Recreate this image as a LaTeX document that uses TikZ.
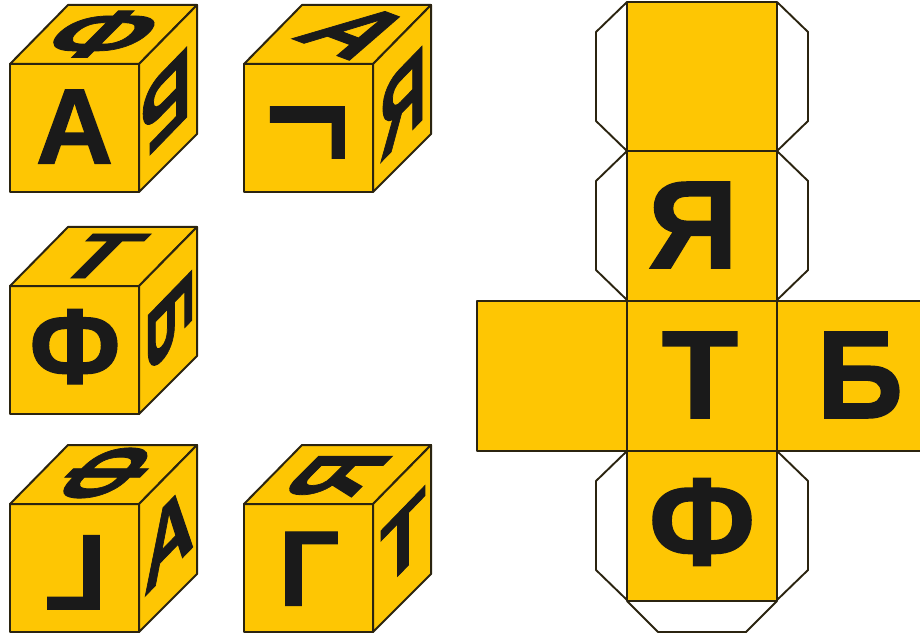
\documentclass[tikz,border=0pt]{standalone}
\usepackage{fontspec}
\setmainfont[BoldFeatures={FakeBold=1.2}]{Liberation Sans}
\definecolor{cubeyellow}{HTML}{FEC603}
\definecolor{inkblack}{HTML}{1A1A1A}
\definecolor{edgeblack}{HTML}{2B2410}
\tikzset{
  face/.style={fill=cubeyellow, draw=edgeblack, line width=2pt, line join=round},
  flap/.style={fill=white, draw=edgeblack, line width=1.9pt, line join=round},
  cubeglyph/.style={font=\fontsize{107}{107}\selectfont\bfseries, inner sep=0pt, text=inkblack, text height=77pt, text depth=0pt},
  netglyph/.style={font=\fontsize{125}{125}\selectfont\bfseries, inner sep=0pt, text=inkblack, text height=90pt, text depth=0pt},
  topglyph/.style={cubeglyph, cm={1,0,.6,.6,(0,0)}},
  sideglyph/.style={cubeglyph, cm={.66,.68,0,1,(0,0)}}
}
\begin{document}
\begin{tikzpicture}[x=1pt,y=-1pt]
  \useasboundingbox (0,0) rectangle (920,636);
  % Cubes: left edge and top edge of the front face
  \foreach \cx/\cy in {10/64, 244/64, 10/286, 10/504, 244/504} {
    \draw[face] (\cx,\cy) rectangle ++(129,128);
    \draw[face] (\cx,\cy) -- ++(58,-59) -- ++(129,0) -- ++(-58,59) -- cycle;
    \draw[face] (\cx+129,\cy) -- ++(58,-59) -- ++(0,129) -- ++(-58,58) -- cycle;
  }
  % Cube 1
  \node[cubeglyph] (frontA) at (74.5,125) {А};
  \node[topglyph, xscale=1.06, yscale=1.04] (topF) at (104,33) {Ф};
  \node[sideglyph, rotate=180, yscale=.95] (sideB) at (166,105) {Б};
  % Cube 2
  \node[cubeglyph, rotate=-90] (frontG) at (309,130) {Г};
  \node[cubeglyph, cm={.8,-.3,.97,.48,(0,0)}] (topA) at (358,31) {А};
  \node[sideglyph, xscale=.92] (sideYa) at (403,101) {Я};
  % Cube 3
  \node[cubeglyph] (frontF) at (75,345) {Ф};
  \node[topglyph, xscale=.92] (topT) at (101,255) {Т};
  \node[sideglyph, rotate=-90, xscale=.9, yscale=.9] (sideBb) at (171,320) {Б};
  % Cube 4
  \node[cubeglyph, rotate=180] (frontGb) at (76,574) {Г};
  \node[topglyph, rotate=90] (topFb) at (105,473) {Ф};
  \node[sideglyph, yscale=.95] (sideA) at (169,535) {А};
  % Cube 5
  \node[cubeglyph] (frontGc) at (309,567) {Г};
  \node[topglyph, rotate=90] (topYa) at (335,475) {Я};
  \node[sideglyph, xscale=1.05, yscale=.85] (sideT) at (403,538) {Т};
  % Net: flaps first, then the faces over them
  \foreach \fy in {2, 151, 451} {
    \draw[flap] (627,\fy) -- ++(-31,30) -- ++(0,89) -- ++(31,30);
    \draw[flap] (777,\fy) -- ++(31,30) -- ++(0,89) -- ++(-31,30);
  }
  \draw[flap] (627,601) -- (658,632) -- (746,632) -- (777,601);
  \foreach \fy in {2, 151, 301, 451}
    \draw[face] (627,\fy) rectangle (777,\fy+150);
  \draw[face] (477,301) rectangle (627,451);
  \fill[cubeyellow] (777,301) rectangle (920,451);
  \draw[face, fill=none] (920,301) -- (777,301) -- (777,451) -- (920,451);
  \node[netglyph] (netYa) at (693,223) {Я};
  \node[netglyph] (netT) at (700,373) {Т};
  \node[netglyph, xscale=.96] (netB) at (860,373) {Б};
  \node[netglyph] (netF) at (702,520) {Ф};
\end{tikzpicture}
\end{document}
